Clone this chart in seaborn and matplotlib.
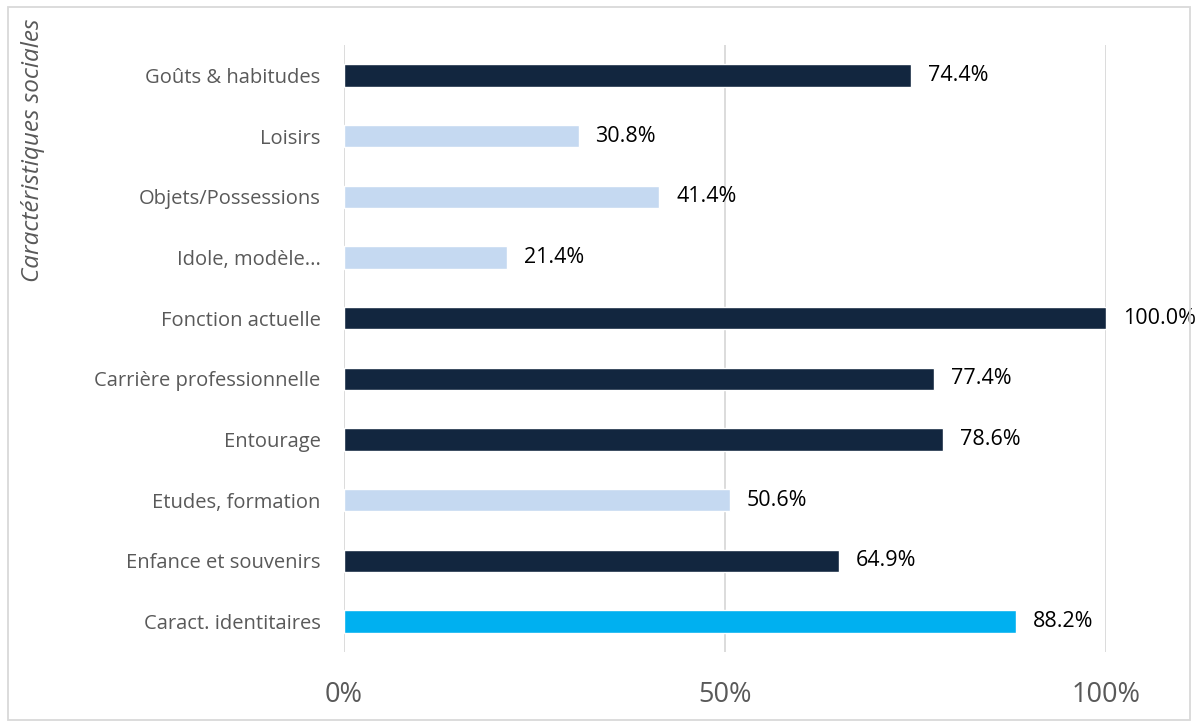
import pandas as pd
import matplotlib.pyplot as plt
import seaborn as sns
from matplotlib.patches import Rectangle

categories = ['Goûts & habitudes', 'Loisirs', 'Objets/Possessions', 'Idole, modèle...',
              'Fonction actuelle', 'Carrière professionnelle', 'Entourage',
              'Etudes, formation', 'Enfance et souvenirs', 'Caract. identitaires']
values = [74.4, 30.8, 41.4, 21.4, 100.0, 77.4, 78.6, 50.6, 64.9, 88.2]
groups = ['dark', 'light', 'light', 'light', 'dark', 'dark', 'dark', 'light', 'dark', 'cyan']

colors = {'dark': '#12263F', 'light': '#C5D9F1', 'cyan': '#00B0F0'}

df = pd.DataFrame({'cat': categories, 'val': values, 'grp': groups})

sns.set_theme(style='white')
plt.rcParams['font.family'] = ['Open Sans', 'DejaVu Sans']

fig = plt.figure(figsize=(11.97, 7.25), dpi=100)
ax = fig.add_axes([344 / 1197, 1 - 652 / 725, (1106 - 344) / 1197, (652 - 45) / 725])

sns.barplot(data=df, y='cat', x='val', hue='grp', palette=colors, dodge=False,
            width=0.37, saturation=1, legend=False, ax=ax, orient='h')

ax.set_xlim(0, 100)
ax.set_ylim(9.5, -0.5)
ax.set_xticks([0, 50, 100])
ax.set_xticklabels(['0%', '50%', '100%'], fontsize=19.5, color='#595959')
ax.tick_params(axis='x', length=0, pad=21)
ax.tick_params(axis='y', length=0, pad=17, labelsize=14.5, labelcolor='#595959')
ax.set_xlabel('')
ax.set_ylabel('')
ax.grid(axis='x', color='#D9D9D9', linewidth=1.3)
ax.set_axisbelow(True)
for s in ax.spines.values():
    s.set_visible(False)

for i, v in enumerate(values):
    ax.text(v + 2.2, i, f'{v:.1f}%', va='center', ha='left', fontsize=15.5, color='black')

fig.text(33 / 1197, 1 - 19 / 725, 'Caractéristiques sociales', rotation=90,
         ha='center', va='top', fontsize=17.5, style='italic', color='#595959')

fig.patches.append(Rectangle((8 / 1197, 5 / 725), 1182 / 1197, 713 / 725,
                             transform=fig.transFigure, fill=False,
                             edgecolor='#D9D9D9', linewidth=1.3))

plt.savefig('out.png', dpi=100)
plt.close()
